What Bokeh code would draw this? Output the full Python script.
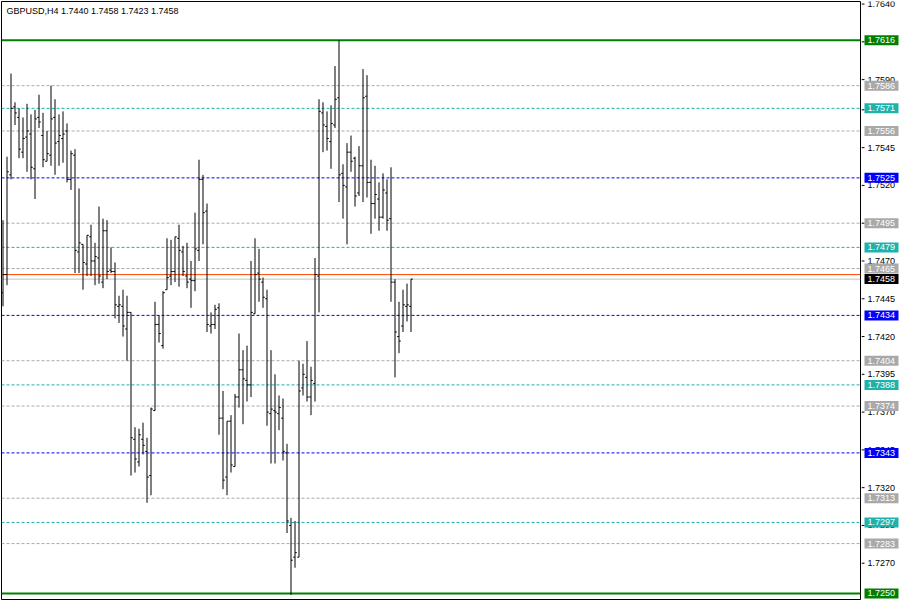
from bokeh.plotting import figure
from bokeh.models import Span, Label, Range1d, ColumnDataSource
from bokeh.transform import dodge
from bokeh.layouts import row
from bokeh.core.properties import value
from bokeh.embed import file_html
from bokeh.resources import INLINE

symbol = "GBPUSD,H4"

opens = [1.7449, 1.7461, 1.7527, 1.7572, 1.7565, 1.7542, 1.7552, 1.7554, 1.7531, 1.7565,
         1.7553, 1.7536, 1.7540, 1.7565, 1.7549, 1.7551, 1.7556, 1.7524, 1.7540, 1.7476,
         1.7481, 1.7468, 1.7486, 1.7470, 1.7472, 1.7456, 1.7490, 1.7464, 1.7463, 1.7440,
         1.7440, 1.7425, 1.7436, 1.7352, 1.7337, 1.7352, 1.7344, 1.7328, 1.7371, 1.7428,
         1.7414, 1.7451, 1.7460, 1.7463, 1.7485, 1.7476, 1.7460, 1.7458, 1.7457, 1.7477,
         1.7524, 1.7503, 1.7427, 1.7428, 1.7439, 1.7366, 1.7327, 1.7364, 1.7334, 1.7380,
         1.7398, 1.7391, 1.7388, 1.7435, 1.7462, 1.7456, 1.7445, 1.7369, 1.7371, 1.7369,
         1.7366, 1.7343, 1.7295, 1.7274, 1.7274, 1.7386, 1.7393, 1.7380, 1.7389, 1.7460,
         1.7568, 1.7559, 1.7549, 1.7560, 1.7578, 1.7528, 1.7519, 1.7542, 1.7538, 1.7515,
         1.7533, 1.7579, 1.7522, 1.7508, 1.7511, 1.7499, 1.7515, 1.7498, 1.7456, 1.7420,
         1.7427, 1.7440, 1.7440]
highs = [1.7497, 1.7539, 1.7594, 1.7575, 1.7571, 1.7565, 1.7574, 1.7567, 1.7570, 1.7580,
         1.7568, 1.7556, 1.7586, 1.7577, 1.7567, 1.7569, 1.7561, 1.7543, 1.7544, 1.7518,
         1.7481, 1.7487, 1.7494, 1.7482, 1.7506, 1.7498, 1.7497, 1.7479, 1.7469, 1.7447,
         1.7451, 1.7447, 1.7436, 1.7360, 1.7359, 1.7363, 1.7353, 1.7373, 1.7443, 1.7434,
         1.7450, 1.7485, 1.7484, 1.7486, 1.7494, 1.7480, 1.7482, 1.7470, 1.7502, 1.7537,
         1.7527, 1.7508, 1.7436, 1.7441, 1.7442, 1.7384, 1.7364, 1.7368, 1.7382, 1.7422,
         1.7411, 1.7414, 1.7470, 1.7485, 1.7478, 1.7459, 1.7451, 1.7411, 1.7395, 1.7381,
         1.7379, 1.7349, 1.7300, 1.7298, 1.7404, 1.7402, 1.7417, 1.7400, 1.7472, 1.7577,
         1.7575, 1.7569, 1.7573, 1.7599, 1.7616, 1.7534, 1.7548, 1.7553, 1.7539, 1.7546,
         1.7597, 1.7593, 1.7537, 1.7533, 1.7522, 1.7528, 1.7524, 1.7532, 1.7458, 1.7443,
         1.7451, 1.7455, 1.7458]
lows = [1.7440, 1.7454, 1.7524, 1.7560, 1.7538, 1.7538, 1.7529, 1.7524, 1.7511, 1.7558,
        1.7532, 1.7536, 1.7533, 1.7527, 1.7533, 1.7535, 1.7522, 1.7517, 1.7462, 1.7462,
        1.7451, 1.7460, 1.7460, 1.7454, 1.7455, 1.7452, 1.7458, 1.7462, 1.7432, 1.7429,
        1.7420, 1.7404, 1.7328, 1.7330, 1.7334, 1.7342, 1.7310, 1.7315, 1.7371, 1.7416,
        1.7412, 1.7451, 1.7454, 1.7456, 1.7453, 1.7460, 1.7452, 1.7439, 1.7450, 1.7470,
        1.7481, 1.7423, 1.7422, 1.7425, 1.7355, 1.7319, 1.7315, 1.7330, 1.7334, 1.7373,
        1.7362, 1.7377, 1.7380, 1.7435, 1.7443, 1.7439, 1.7361, 1.7336, 1.7336, 1.7358,
        1.7338, 1.7290, 1.7249, 1.7267, 1.7274, 1.7381, 1.7377, 1.7368, 1.7377, 1.7436,
        1.7542, 1.7543, 1.7531, 1.7558, 1.7509, 1.7498, 1.7481, 1.7529, 1.7506, 1.7513,
        1.7509, 1.7512, 1.7488, 1.7498, 1.7490, 1.7498, 1.7490, 1.7443, 1.7393, 1.7409,
        1.7423, 1.7430, 1.7423]
closes = [1.7461, 1.7529, 1.7571, 1.7568, 1.7544, 1.7551, 1.7556, 1.7532, 1.7564, 1.7562,
          1.7537, 1.7541, 1.7564, 1.7548, 1.7553, 1.7554, 1.7524, 1.7541, 1.7477, 1.7482,
          1.7469, 1.7487, 1.7470, 1.7473, 1.7460, 1.7490, 1.7463, 1.7463, 1.7441, 1.7441,
          1.7427, 1.7436, 1.7353, 1.7339, 1.7355, 1.7348, 1.7327, 1.7372, 1.7428, 1.7422,
          1.7449, 1.7459, 1.7463, 1.7486, 1.7477, 1.7463, 1.7456, 1.7457, 1.7478, 1.7524,
          1.7502, 1.7428, 1.7428, 1.7438, 1.7366, 1.7325, 1.7364, 1.7335, 1.7380, 1.7398,
          1.7392, 1.7388, 1.7436, 1.7461, 1.7458, 1.7446, 1.7370, 1.7372, 1.7370, 1.7373,
          1.7344, 1.7298, 1.7272, 1.7277, 1.7384, 1.7395, 1.7380, 1.7391, 1.7461, 1.7569,
          1.7560, 1.7551, 1.7561, 1.7577, 1.7527, 1.7520, 1.7542, 1.7536, 1.7513, 1.7533,
          1.7578, 1.7522, 1.7508, 1.7514, 1.7499, 1.7517, 1.7497, 1.7456, 1.7423, 1.7417,
          1.7441, 1.7441, 1.7458]
bar_index = list(range(len(opens)))

level_prices = [1.7616, 1.7586, 1.7571, 1.7556, 1.7525, 1.7495, 1.7479, 1.7465,
                1.7434, 1.7404, 1.7388, 1.7374, 1.7343, 1.7313, 1.7297, 1.7283, 1.7250]
level_kinds = ["green", "gray", "teal", "gray", "blue", "gray", "teal", "gray",
               "blue", "gray", "teal", "gray", "blue", "gray", "teal", "gray", "green"]
bid_price = closes[-1]
ask_line_price = 1.7461

tick_values = [1.7640, 1.7615, 1.7590, 1.7570, 1.7545, 1.7520, 1.7495, 1.7470, 1.7445,
               1.7420, 1.7395, 1.7370, 1.7345, 1.7320, 1.7295, 1.7270]

kind_color = {"green": "#008000", "gray": "#A9A9A9", "teal": "#20B2AA", "blue": "#0000FF"}
FONT = "Liberation Sans"

H = 600
SCALE_W = 38
MAIN_W = 899 - SCALE_W
TOP, BOTTOM, LEFT, RIGHT = 1, 1, 1, 1
frame_w = MAIN_W - LEFT - RIGHT
x_start = -0.375
x_end = x_start + frame_w / 4.0
y_range = Range1d(1.7246, 1.76417)

# ---------------- main chart ----------------
p = figure(width=MAIN_W, height=H, output_backend="svg", toolbar_location=None,
           x_axis_location=None, y_axis_location=None,
           x_range=Range1d(x_start, x_end), y_range=y_range,
           min_border_left=LEFT, min_border_right=RIGHT, min_border_top=TOP,
           min_border_bottom=BOTTOM,
           background_fill_color="white", border_fill_color="white")
p.outline_line_color = "black"
p.outline_line_width = 1
p.grid.visible = False

for pr, kind in zip(level_prices, level_kinds):
    col = kind_color[kind]
    if kind == "green":
        p.add_layout(Span(location=pr, dimension="width", line_color=col,
                          line_width=2, level="underlay"))
    else:
        p.add_layout(Span(location=pr, dimension="width", line_color=col,
                          line_width=1, line_dash="3 2", level="underlay"))
p.add_layout(Span(location=bid_price, dimension="width", line_color="#C0C0C0",
                  line_width=1, level="underlay"))
p.add_layout(Span(location=ask_line_price, dimension="width", line_color="#FF4500",
                  line_width=1, level="underlay"))

src = ColumnDataSource(dict(x=bar_index, o=opens, h=highs, l=lows, c=closes))
p.segment(x0="x", y0="h", x1="x", y1="l", line_color="black", line_width=1, source=src)
p.segment(x0=dodge("x", -0.45), y0="o", x1="x", y1="o", line_color="black",
          line_width=1, source=src)
p.segment(x0="x", y0="c", x1=dodge("x", 0.45), y1="c", line_color="black",
          line_width=1, source=src)

header = f"{symbol}  {opens[-1]:.4f} {highs[-1]:.4f} {lows[-1]:.4f} {closes[-1]:.4f}"
p.add_layout(Label(x=x_start, y=y_range.end, x_offset=5, y_offset=-4, text=header,
                   text_color="black", text_font=FONT, text_font_size="9px",
                   text_baseline="top", text_align="left"))

# ---------------- price scale (shares the price range and frame size) ----------------
s = figure(width=SCALE_W, height=H, output_backend="svg", toolbar_location=None,
           x_axis_location=None, y_axis_location=None,
           x_range=Range1d(0, SCALE_W), y_range=y_range,
           min_border_left=0, min_border_right=0, min_border_top=TOP,
           min_border_bottom=BOTTOM,
           background_fill_color="white", border_fill_color="white")
s.outline_line_color = None
s.grid.visible = False

tick_src = ColumnDataSource(dict(y=tick_values, t=[f"{v:.4f}" for v in tick_values]))
s.segment(x0=0, y0="y", x1=3, y1="y", line_color="black", line_width=1, source=tick_src)
s.text(x=6, y="y", text="t", text_color="black", text_font=value(FONT),
       text_font_size=value("9px"), text_baseline="middle", text_align="left",
       source=tick_src)

lab_prices = level_prices + [bid_price]
lab_colors = [kind_color[k] for k in level_kinds] + ["black"]
lab_src = ColumnDataSource(dict(y=lab_prices, c=lab_colors,
                                t=[f"{v:.4f}" for v in lab_prices]))
s.rect(x=20, y="y", width=34, height=10, height_units="screen", fill_color="c",
       line_color=None, source=lab_src)
s.text(x=6, y="y", text="t", text_color="white", text_font=value(FONT),
       text_font_size=value("9px"), text_baseline="middle", text_align="left",
       source=lab_src)

open("out.html", "w").write(file_html(row(p, s), INLINE))
